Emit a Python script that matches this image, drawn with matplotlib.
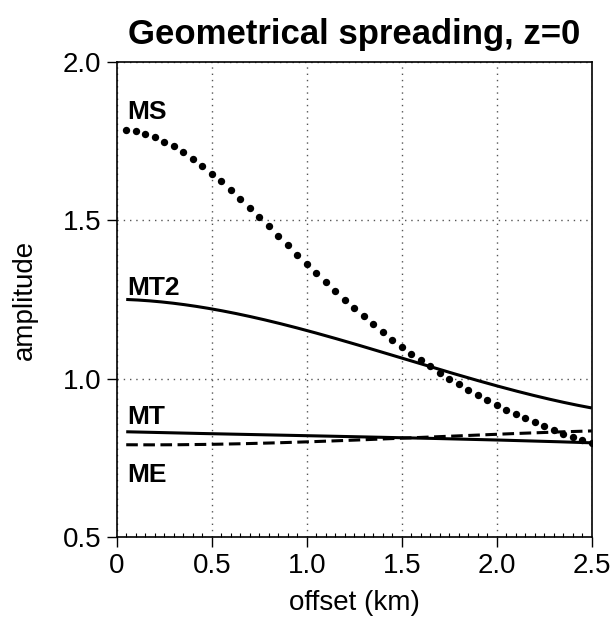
import numpy as np
import matplotlib
matplotlib.use("Agg")
import matplotlib.pyplot as plt
from matplotlib.ticker import MultipleLocator, FixedLocator

plt.rcParams['font.family'] = ['Liberation Sans', 'DejaVu Sans']

# MS: dotted curve, one dot per sample
ms_x = [0.05, 0.10, 0.15, 0.20, 0.25, 0.30, 0.35, 0.40, 0.45, 0.50,
        0.55, 0.60, 0.65, 0.70, 0.75, 0.80, 0.85, 0.90, 0.95, 1.00,
        1.05, 1.10, 1.15, 1.20, 1.25, 1.30, 1.35, 1.40, 1.45, 1.50,
        1.55, 1.60, 1.65, 1.70, 1.75, 1.80, 1.85, 1.90, 1.95, 2.00,
        2.05, 2.10, 2.15, 2.20, 2.25, 2.30, 2.35, 2.40, 2.45, 2.50]
ms_y = [1.785, 1.781, 1.772, 1.762, 1.749, 1.734, 1.716, 1.695, 1.673, 1.648,
        1.623, 1.596, 1.568, 1.539, 1.511, 1.481, 1.452, 1.421, 1.392, 1.362,
        1.334, 1.305, 1.277, 1.249, 1.223, 1.198, 1.172, 1.148, 1.124, 1.102,
        1.080, 1.060, 1.042, 1.020, 1.001, 0.984, 0.965, 0.949, 0.934, 0.918,
        0.903, 0.889, 0.876, 0.863, 0.850, 0.839, 0.827, 0.816, 0.807, 0.798]

mt2_x = [0.05, 0.25, 0.50, 0.75, 1.00, 1.25, 1.50, 1.75, 2.00, 2.25, 2.50]
mt2_y = [1.250, 1.242, 1.222, 1.192, 1.150, 1.108, 1.068, 1.022, 0.977, 0.940, 0.908]

mt_x = [0.05, 0.50, 1.00, 1.60, 2.00, 2.50]
mt_y = [0.833, 0.827, 0.821, 0.812, 0.808, 0.798]

me_x = [0.05, 0.50, 1.00, 1.60, 2.00, 2.50]
me_y = [0.792, 0.794, 0.800, 0.817, 0.824, 0.836]

labels = ['MS', 'MT2', 'MT', 'ME']
label_x = [0.055, 0.055, 0.055, 0.055]
label_y = [1.821, 1.266, 0.858, 0.734]
label_va = ['baseline', 'baseline', 'baseline', 'top']

xticks = [0, 0.5, 1.0, 1.5, 2.0, 2.5]
xticklabels = ['0', '0.5', '1.0', '1.5', '2.0', '2.5']
yticks = [0.5, 1.0, 1.5, 2.0]
yticklabels = ['0.5', '1.0', '1.5', '2.0']

fig = plt.figure(figsize=(6.13, 6.28), dpi=100)
ax = fig.add_axes([0.1904, 0.1444, 0.9653 - 0.1904, 0.9013 - 0.1444])

def smooth(xs, ys, n=200):
    xs = np.asarray(xs); ys = np.asarray(ys)
    xx = np.linspace(xs[0], xs[-1], n)
    deg = min(3, len(xs) - 1)
    c = np.polyfit(xs, ys, deg)
    return xx, np.polyval(c, xx)

lw = 2.2
xx, yy = smooth(mt2_x, mt2_y)
ax.plot(xx, yy, color='black', lw=lw, solid_capstyle='butt')
xx, yy = smooth(mt_x, mt_y)
ax.plot(xx, yy, color='black', lw=lw, solid_capstyle='butt')
xx, yy = smooth(me_x, me_y)
ax.plot(xx, yy, color='black', lw=lw, dashes=(3.8, 1.8), dash_capstyle='butt')
ax.plot(ms_x, ms_y, linestyle='none', marker='o', markersize=5.3,
        color='black', markeredgewidth=0)

for t, x, y, va in zip(labels, label_x, label_y, label_va):
    ax.text(x, y, t, fontsize=19, fontweight='bold', ha='left', va=va)

ax.set_xlim(0, 2.5)
ax.set_ylim(0.5, 2.0)
ax.xaxis.set_major_locator(FixedLocator(xticks))
ax.set_xticklabels(xticklabels)
ax.yaxis.set_major_locator(FixedLocator(yticks))
ax.set_yticklabels(yticklabels)
ax.xaxis.set_minor_locator(MultipleLocator(0.05))
ax.tick_params(axis='both', which='major', direction='out', length=7,
               width=1.0, labelsize=20, pad=4)
ax.tick_params(axis='x', which='minor', direction='in', length=3, width=0.8)
ax.tick_params(axis='y', which='minor', left=False)

ax.grid(True, which='major', color='#555555', linestyle=(0, (1, 3.5)), lw=1.0)
for s in ax.spines.values():
    s.set_linewidth(1.2)
    s.set_color('black')

ax.set_title('Geometrical spreading, z=0', fontsize=25, fontweight='bold', pad=13)
ax.set_xlabel('offset (km)', fontsize=20, labelpad=8)
ax.set_ylabel('amplitude', fontsize=20, labelpad=18)

fig.savefig('out.png', dpi=100)
